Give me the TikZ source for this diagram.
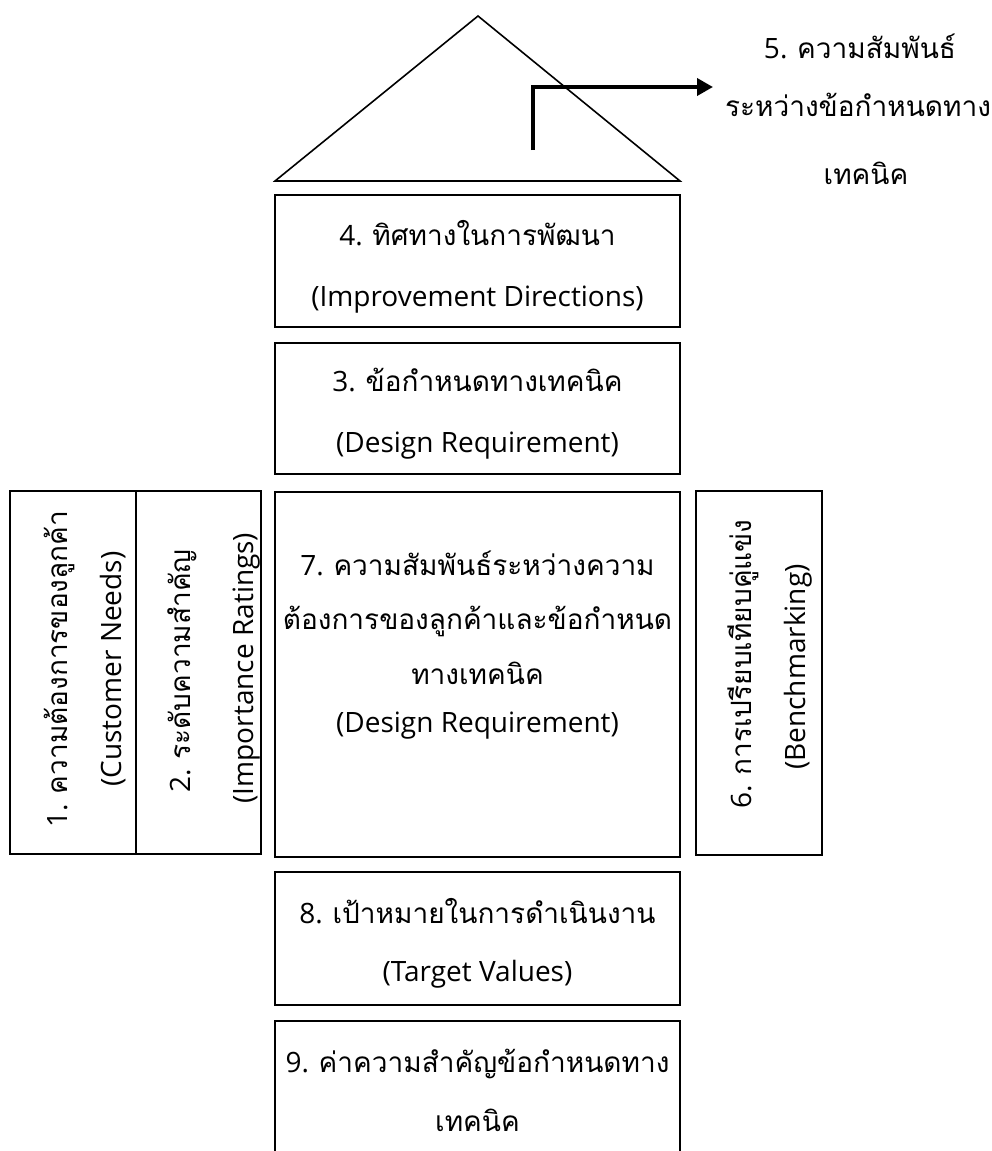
\documentclass[tikz,border=0pt]{standalone}
\usepackage{fontspec}
\setmainfont{Open Sans}
\newfontfamily\thaifont[Script=Thai]{Loma}
\newcommand\thtext[1]{{\thaifont #1}}
\usetikzlibrary{arrows.meta}

\begin{document}
\begin{tikzpicture}[x=1pt, y={(0pt,-1pt)},
  panel/.style={draw, line width=2.6pt, inner sep=0pt},
  ln/.style={anchor=base, inner sep=0pt, font=\fontsize{28}{34}\selectfont},
  rln/.style={ln, rotate=90},
  roof/.style={line width=1.6pt, line join=miter},
  pointer/.style={line width=3.6pt, -{Triangle[length=16pt,width=17pt]}}]

\useasboundingbox (0,0) rectangle (992,1151);

% roof of the house
\draw[roof] (275,181) -- (478,16) -- (680,181) -- cycle;

% pointer to the roof label
\coordinate (roofIn) at (533,150);
\coordinate (roofOut) at (713,87);
\draw[pointer] (roofIn) |- (roofOut);

\node[ln] (corr1) at (860,58) {5. \thtext{ความสัมพันธ์}};
\node[ln] (corr2) at (858,116) {\thtext{ระหว่างข้อกำหนดทาง}};
\node[ln] (corr3) at (866,184) {\thtext{เทคนิค}};

% centre column
\node[panel, minimum width=405pt, minimum height=132pt] (dir) at (477.5,261) {};
\node[ln] (dir1) at (477.5,245) {4. \thtext{ทิศทางในการพัฒนา}};
\node[ln] (dir2) at (477.5,306) {(Improvement Directions)};

\node[panel, minimum width=405pt, minimum height=131pt] (req) at (477.5,408.5) {};
\node[ln] (req1) at (477.5,391) {3. \thtext{ข้อกำหนดทางเทคนิค}};
\node[ln] (req2) at (477.5,452) {(Design Requirement)};

\node[panel, minimum width=405pt, minimum height=365pt] (mat) at (477.5,674.5) {};
\node[ln] (mat1) at (477.5,575) {7. \thtext{ความสัมพันธ์ระหว่างความ}};
\node[ln] (mat2) at (477.5,629) {\thtext{ต้องการของลูกค้าและข้อกำหนด}};
\node[ln] (mat3) at (477.5,684) {\thtext{ทางเทคนิค}};
\node[ln] (mat4) at (477.5,732) {(Design Requirement)};

\node[panel, minimum width=405pt, minimum height=133pt] (tgt) at (477.5,938.5) {};
\node[ln] (tgt1) at (477.5,923) {8. \thtext{เป้าหมายในการดำเนินงาน}};
\node[ln] (tgt2) at (477.5,981) {(Target Values)};

\node[panel, minimum width=405pt, minimum height=133pt] (wgt) at (477.5,1087.5) {};
\node[ln] (wgt1) at (477.5,1072) {9. \thtext{ค่าความสำคัญข้อกำหนดทาง}};
\node[ln] (wgt2) at (477.5,1131) {\thtext{เทคนิค}};

% left wall
\node[panel, minimum width=363pt, minimum height=126pt, rotate=90] (need) at (73,672.5) {};
\node[rln] (need1) at (67,669) {1. \thtext{ความต้องการของลูกค้า}};
\node[rln] (need2) at (121,669) {(Customer Needs)};

\node[panel, minimum width=363pt, minimum height=125pt, rotate=90] (imp) at (198.5,672.5) {};
\node[rln] (imp1) at (190,671) {2. \thtext{ระดับความสำคัญ}};
\node[rln] (imp2) at (253,668) {(Importance Ratings)};

% right wall
\node[panel, minimum width=364pt, minimum height=126pt, rotate=90] (bench) at (759,673) {};
\node[rln] (bench1) at (751,664) {6. \thtext{การเปรียบเทียบคู่แข่ง}};
\node[rln] (bench2) at (805,667) {(Benchmarking)};

\end{tikzpicture}
\end{document}
